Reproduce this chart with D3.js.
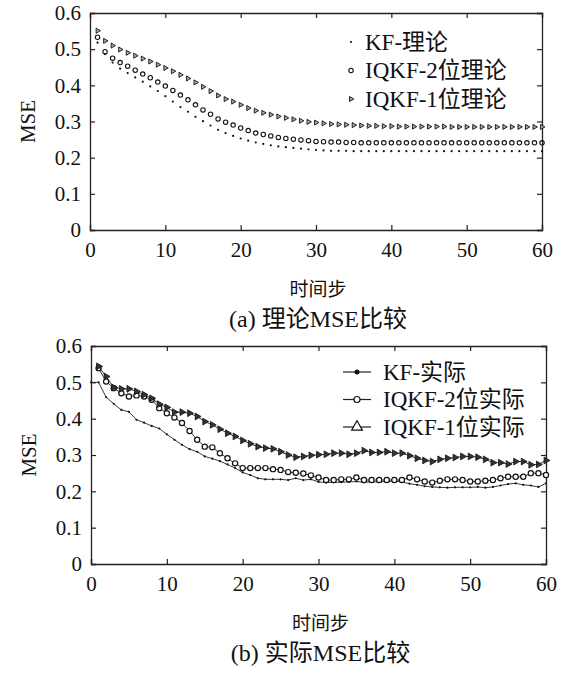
<!DOCTYPE html>
<html>
<head>
<meta charset="utf-8">
<script src="https://d3js.org/d3.v7.min.js"></script>
<style>
  body { margin: 0; background: #fff; }
  svg { display: block; }
  text { fill: #111; }
</style>
</head>
<body>
<script>
// ---- data ----
var xTicks = [0, 10, 20, 30, 40, 50, 60];
var yTicks = [0, 0.1, 0.2, 0.3, 0.4, 0.5, 0.6];

// (a) theory, steps 1..60
var kfTheory = [0.518, 0.486, 0.463, 0.446, 0.434, 0.422, 0.410, 0.397, 0.384, 0.370,
                0.355, 0.340, 0.327, 0.313, 0.301, 0.289, 0.277, 0.268, 0.260, 0.253,
                0.247, 0.242, 0.238, 0.234, 0.231, 0.229, 0.227, 0.225, 0.223, 0.221,
                0.220, 0.219, 0.219, 0.219, 0.218, 0.218, 0.218, 0.218, 0.218, 0.218,
                0.218, 0.218, 0.218, 0.218, 0.218, 0.218, 0.218, 0.218, 0.218, 0.218,
                0.218, 0.218, 0.218, 0.218, 0.218, 0.218, 0.218, 0.218, 0.218, 0.218];
var iq2Theory = [0.533, 0.493, 0.475, 0.463, 0.453, 0.442, 0.431, 0.421, 0.409, 0.398,
                 0.386, 0.373, 0.360, 0.346, 0.332, 0.320, 0.307, 0.298, 0.290, 0.282,
                 0.275, 0.268, 0.264, 0.260, 0.256, 0.253, 0.251, 0.249, 0.247, 0.245,
                 0.244, 0.243, 0.243, 0.242, 0.242, 0.241, 0.241, 0.241, 0.241, 0.241,
                 0.241, 0.241, 0.241, 0.241, 0.241, 0.241, 0.241, 0.241, 0.241, 0.241,
                 0.241, 0.241, 0.241, 0.241, 0.241, 0.241, 0.241, 0.241, 0.241, 0.241];
var iq1Theory = [0.551, 0.523, 0.510, 0.499, 0.490, 0.482, 0.474, 0.466, 0.457, 0.448,
                 0.439, 0.429, 0.419, 0.408, 0.396, 0.384, 0.372, 0.362, 0.355, 0.346,
                 0.337, 0.330, 0.324, 0.319, 0.314, 0.310, 0.306, 0.302, 0.299, 0.297,
                 0.295, 0.293, 0.292, 0.291, 0.290, 0.289, 0.288, 0.288, 0.287, 0.287,
                 0.286, 0.286, 0.286, 0.286, 0.286, 0.286, 0.286, 0.285, 0.285, 0.285,
                 0.285, 0.285, 0.285, 0.285, 0.285, 0.285, 0.285, 0.285, 0.285, 0.285];

// (b) actual; KF starts at step 0, the others at step 1
var kfActual = [0.500, 0.500, 0.459, 0.441, 0.424, 0.419, 0.397, 0.389, 0.380, 0.373, 0.357,
                0.342, 0.328, 0.316, 0.309, 0.296, 0.290, 0.283, 0.274, 0.264, 0.252,
                0.245, 0.236, 0.233, 0.233, 0.233, 0.231, 0.236, 0.231, 0.233, 0.226,
                0.224, 0.225, 0.225, 0.226, 0.227, 0.225, 0.226, 0.226, 0.227, 0.228,
                0.226, 0.221, 0.218, 0.214, 0.212, 0.211, 0.210, 0.211, 0.211, 0.211,
                0.212, 0.210, 0.212, 0.216, 0.220, 0.222, 0.218, 0.216, 0.212, 0.222];
var iq2Actual = [0.539, 0.502, 0.484, 0.470, 0.461, 0.464, 0.461, 0.452, 0.429, 0.415,
                 0.403, 0.388, 0.366, 0.342, 0.323, 0.321, 0.305, 0.291, 0.277, 0.264,
                 0.264, 0.264, 0.264, 0.261, 0.259, 0.253, 0.251, 0.249, 0.244, 0.238,
                 0.231, 0.231, 0.233, 0.233, 0.238, 0.231, 0.231, 0.231, 0.231, 0.231,
                 0.231, 0.238, 0.233, 0.227, 0.224, 0.229, 0.233, 0.233, 0.231, 0.227,
                 0.227, 0.229, 0.231, 0.236, 0.240, 0.240, 0.240, 0.250, 0.250, 0.245];
var iq1Actual = [0.544, 0.516, 0.486, 0.482, 0.482, 0.475, 0.466, 0.456, 0.440, 0.431,
                 0.418, 0.418, 0.415, 0.406, 0.392, 0.383, 0.371, 0.360, 0.351, 0.340,
                 0.331, 0.323, 0.319, 0.317, 0.309, 0.300, 0.294, 0.296, 0.299, 0.301,
                 0.302, 0.305, 0.305, 0.302, 0.305, 0.312, 0.307, 0.307, 0.309, 0.305,
                 0.305, 0.298, 0.291, 0.285, 0.282, 0.288, 0.291, 0.293, 0.296, 0.296,
                 0.294, 0.288, 0.279, 0.279, 0.275, 0.282, 0.282, 0.273, 0.274, 0.285];

var serif = '"Liberation Serif", "Noto Sans CJK SC", serif';
var svg = d3.select('body').append('svg').attr('width', 561).attr('height', 675);

function pts(arr, start) {
  return arr.map(function(v, i) { return {x: i + start, y: v}; });
}

function panel(box, series, legend, caption) {
  var x = d3.scaleLinear().domain([0, 60]).range([box.left, box.right]);
  var y = d3.scaleLinear().domain([0, 0.6]).range([box.bottom, box.top]);
  var g = svg.append('g');
  var tk = 5;

  g.append('g').attr('transform', 'translate(0,' + box.bottom + ')')
    .call(d3.axisBottom(x).tickValues(xTicks).tickSize(-tk).tickPadding(12).tickFormat(d3.format('d')));
  g.append('g').attr('transform', 'translate(0,' + box.top + ')')
    .call(d3.axisTop(x).tickValues(xTicks).tickSize(-tk).tickFormat(''));
  g.append('g').attr('transform', 'translate(' + box.left + ',0)')
    .call(d3.axisLeft(y).tickValues(yTicks).tickSize(-tk).tickPadding(9).tickFormat(function(d) { return d === 0 ? '0' : d3.format('.1f')(d); }));
  g.append('g').attr('transform', 'translate(' + box.right + ',0)')
    .call(d3.axisRight(y).tickValues(yTicks).tickSize(-tk).tickFormat(''));
  g.selectAll('.domain').attr('stroke', '#222').attr('stroke-width', 1.3);
  g.selectAll('.tick line').attr('stroke', '#222').attr('stroke-width', 1.2);
  g.selectAll('.tick text').attr('fill', '#111').style('font-size', '21px').style('font-family', serif);

  g.append('text').attr('transform', 'translate(' + (box.left - 62) + ',' + ((box.top + box.bottom) / 2) + ') rotate(-90)')
    .attr('text-anchor', 'middle').attr('dominant-baseline', 'central')
    .style('font-family', serif).style('font-size', '21px').text('MSE');
  g.append('text').attr('x', (box.left + box.right) / 2 + 2).attr('y', box.bottom + 57)
    .attr('text-anchor', 'middle').attr('dominant-baseline', 'central')
    .style('font-family', '"Noto Sans CJK SC", sans-serif').style('font-size', '19px').text('时间步');
  g.append('text').attr('x', (box.left + box.right) / 2 + 2).attr('y', box.bottom + 89)
    .attr('text-anchor', 'middle').attr('dominant-baseline', 'central')
    .style('font-family', serif).style('font-size', '24px').text(caption);

  var line = d3.line().x(function(d) { return x(d.x); }).y(function(d) { return y(d.y); });

  series.forEach(function(s) {
    if (s.line) {
      g.append('path').datum(s.data).attr('d', line).attr('fill', 'none')
        .attr('stroke', '#222').attr('stroke-width', 0.9);
    }
    drawMarks(g, s.data.map(function(d) { return [x(d.x), y(d.y)]; }), s.mark);
  });

  // legend
  legend.rows.forEach(function(r, i) {
    var cy = legend.y + i * legend.dy;
    if (legend.line) {
      g.append('line').attr('x1', legend.mx - 14).attr('x2', legend.mx + 14)
        .attr('y1', cy).attr('y2', cy).attr('stroke', '#222').attr('stroke-width', 1.2);
    }
    drawMarks(g, [[legend.mx, cy]], r.mark);
    g.append('text').attr('x', legend.tx).attr('y', cy).attr('dominant-baseline', 'central')
      .style('font-family', serif).style('font-size', '23px')
      .text(r.label);
  });
}

function drawMarks(g, xy, m) {
  if (m.type === 'dot') {
    g.selectAll(null).data(xy).enter().append('circle')
      .attr('cx', function(d) { return d[0]; }).attr('cy', function(d) { return d[1]; })
      .attr('r', m.r).attr('fill', '#111');
  } else if (m.type === 'circle') {
    g.selectAll(null).data(xy).enter().append('circle')
      .attr('cx', function(d) { return d[0]; }).attr('cy', function(d) { return d[1]; })
      .attr('r', m.r).attr('fill', m.fill || 'none').attr('stroke', '#111').attr('stroke-width', m.sw);
  } else {
    var sym = d3.symbol().type(d3.symbolTriangle).size(m.size);
    g.selectAll(null).data(xy).enter().append('path')
      .attr('d', sym)
      .attr('transform', function(d) { return 'translate(' + d[0] + ',' + d[1] + ') rotate(' + (m.rot || 0) + ')'; })
      .attr('fill', m.fill).attr('stroke', '#111').attr('stroke-width', m.sw);
  }
}

panel({left: 90, right: 542, top: 13, bottom: 230},
  [
    {data: pts(kfTheory, 1), mark: {type: 'dot', r: 1.1}},
    {data: pts(iq2Theory, 1), mark: {type: 'circle', r: 2.2, sw: 1.1}},
    {data: pts(iq1Theory, 1), mark: {type: 'tri', size: 11, rot: 90, fill: '#aaa', sw: 0.9}}
  ],
  {mx: 351, tx: 365, y: 42, dy: 28.5, line: false, rows: [
    {label: 'KF-理论', mark: {type: 'dot', r: 1.1}},
    {label: 'IQKF-2位理论', mark: {type: 'circle', r: 2.2, sw: 1.1}},
    {label: 'IQKF-1位理论', mark: {type: 'tri', size: 11, rot: 90, fill: '#aaa', sw: 0.9}}
  ]},
  '(a) 理论MSE比较');

panel({left: 91, right: 546, top: 346, bottom: 564},
  [
    {data: pts(kfActual, 0), line: true, mark: {type: 'dot', r: 1.1}},
    {data: pts(iq2Actual, 1), line: true, mark: {type: 'circle', r: 2.6, sw: 1.2, fill: '#fff'}},
    {data: pts(iq1Actual, 1), line: true, mark: {type: 'tri', size: 20, rot: 90, fill: '#333', sw: 0.8}}
  ],
  {mx: 357, tx: 383, y: 372, dy: 27.5, line: true, rows: [
    {label: 'KF-实际', mark: {type: 'dot', r: 2.5}},
    {label: 'IQKF-2位实际', mark: {type: 'circle', r: 3, sw: 1.2, fill: '#fff'}},
    {label: 'IQKF-1位实际', mark: {type: 'tri', size: 50, rot: 0, fill: '#fff', sw: 1.2}}
  ]},
  '(b) 实际MSE比较');
</script>
</body>
</html>
